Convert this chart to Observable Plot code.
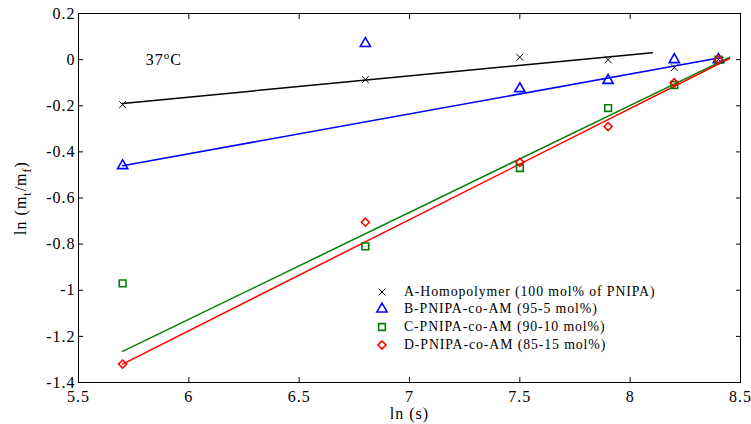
<!DOCTYPE html>
<html><head><meta charset="utf-8">
<script src="https://cdn.jsdelivr.net/npm/d3@7"></script>
<script src="https://cdn.jsdelivr.net/npm/@observablehq/plot@0.6"></script>
<style>
body{margin:0;background:#fff;}
#wrap{position:relative;width:751px;height:424px;font-family:"Liberation Serif","Times New Roman",serif;}
#wrap svg text{letter-spacing:1px;}
#legend{position:absolute;left:374px;top:283px;font-size:13.8px;letter-spacing:0.9px;color:#000;}
#legend .row{display:flex;align-items:center;height:17.6px;white-space:nowrap;}
#legend svg{width:16px;height:16px;margin-right:14px;overflow:visible;}
</style></head><body><div id="wrap"></div>
<script>
// ---- data ----
const lnS = [5.7, 6.8, 7.5, 7.9, 8.2, 8.4];
const seriesNames = [
  "A-Homopolymer (100 mol% of PNIPA)",
  "B-PNIPA-co-AM (95-5 mol%)",
  "C-PNIPA-co-AM (90-10 mol%)",
  "D-PNIPA-co-AM (85-15 mol%)"
];
const valsA = [-0.195, -0.087, 0.01, 0.0, -0.035, 0.0];
const valsB = [-0.46, 0.07, -0.126, -0.09, 0.0, 0.0];
const valsC = [-0.97, -0.81, -0.47, -0.21, -0.11, 0.0];
const valsD = [-1.32, -0.705, -0.445, -0.29, -0.10, 0.0];
// linear-fit end points (x, y)
const fitXA = [5.7, 8.1],  fitYA = [-0.19, 0.03];
const fitXB = [5.7, 8.42], fitYB = [-0.46, 0.01];
const fitXC = [5.7, 8.45], fitYC = [-1.265, 0.01];
const fitXD = [5.7, 8.45], fitYD = [-1.32, 0.005];
const xTicks = [5.5, 6, 6.5, 7, 7.5, 8, 8.5];
const yTicks = [-1.4, -1.2, -1, -0.8, -0.6, -0.4, -0.2, 0, 0.2];
const annotation = [{x: 5.805, y: 0.0, text: "37oC"}];

// ---- styling ----
const colors = ["#000000", "#0000ff", "#008000", "#ff0000"];
const symbols = ["times", "triangle", "square", "diamond2"];
const radii = [3.2, 3.8, 3.8, 3.6];
const vals = [valsA, valsB, valsC, valsD];
const fits = [[fitXA, fitYA], [fitXB, fitYB], [fitXC, fitYC], [fitXD, fitYD]];

const pts = vals.map(v => lnS.map((x, i) => ({x, y: v[i]})));
const lines = fits.map(([fx, fy]) => fx.map((x, i) => ({x, y: fy[i]})));
const fmt = d => String(+d.toFixed(2));

const marks = [
  Plot.frame({stroke: "black", strokeWidth: 1}),
  // tick labels
  Plot.axisX(xTicks, {anchor: "bottom", tickSize: 0, tickPadding: 8, tickFormat: fmt, fontSize: 16,
    label: "ln (s)", labelAnchor: "center", labelOffset: 36, labelArrow: "none"}),
  Plot.axisY(yTicks, {anchor: "left", tickSize: 0, tickPadding: 3, tickFormat: fmt, fontSize: 16,
    label: "ln (m_t/m_f)", labelAnchor: "center", labelOffset: 64, labelArrow: "none"}),
  // inward ticks on all four sides
  Plot.axisX(xTicks, {anchor: "bottom", tickSize: 5, dy: -5, tickFormat: () => "", label: null}),
  Plot.axisX(xTicks, {anchor: "top", tickSize: 5, dy: 5, tickFormat: () => "", label: null}),
  Plot.axisY(yTicks, {anchor: "left", tickSize: 5, dx: 5, tickFormat: () => "", label: null}),
  Plot.axisY(yTicks, {anchor: "right", tickSize: 5, dx: -5, tickFormat: () => "", label: null}),
  ...lines.map((l, i) => Plot.line(l, {x: "x", y: "y", stroke: colors[i], strokeWidth: 1.5})),
  ...pts.map((p, i) => Plot.dot(p, {x: "x", y: "y", symbol: () => symbols[i], r: radii[i],
    stroke: colors[i], fill: "none", strokeWidth: i === 0 ? 1 : 1.6})),
  Plot.text(annotation, {x: "x", y: "y", text: "text", textAnchor: "start", fontSize: 16})
];

const chart = Plot.plot({
  width: 751, height: 424,
  marginLeft: 78, marginRight: 11, marginTop: 13, marginBottom: 42,
  x: {domain: [5.5, 8.5]},
  y: {domain: [-1.4, 0.2]},
  symbol: {type: "identity"},
  style: {fontFamily: '"Liberation Serif","Times New Roman",serif', fontSize: "16px", color: "black", background: "white"},
  marks
});

// rich text fixes: subscripts and superscript
d3.select(chart).selectAll("text").each(function() {
  const t = d3.select(this);
  const s = this.textContent;
  if (s.startsWith("ln (m_t")) {
    t.text("");
    t.append("tspan").text("ln (m");
    t.append("tspan").attr("dy", 5).attr("font-size", 12).text("t");
    t.append("tspan").attr("dy", -5).text("/m");
    t.append("tspan").attr("dy", 5).attr("font-size", 12).text("f");
    t.append("tspan").attr("dy", -5).text(")");
  } else if (s === "37oC") {
    t.text("");
    t.append("tspan").text("37");
    t.append("tspan").attr("dy", -6).attr("font-size", 11).text("o");
    t.append("tspan").attr("dy", 6).text("C");
  }
});

const wrap = document.getElementById("wrap");
wrap.appendChild(chart);

// legend
const legend = document.createElement("div");
legend.id = "legend";
seriesNames.forEach((name, i) => {
  const row = document.createElement("div");
  row.className = "row";
  const sym = {times: d3.symbolTimes, triangle: d3.symbolTriangle, square: d3.symbolSquare, diamond2: d3.symbolDiamond2}[symbols[i]];
  const path = d3.symbol(sym, Math.PI * radii[i] * radii[i])();
  row.innerHTML = `<svg viewBox="-8 -8 16 16"><path d="${path}" fill="none" stroke="${colors[i]}" stroke-width="${i === 0 ? 1 : 1.6}"/></svg><span>${name}</span>`;
  legend.appendChild(row);
});
wrap.appendChild(legend);
</script>
</body></html>
